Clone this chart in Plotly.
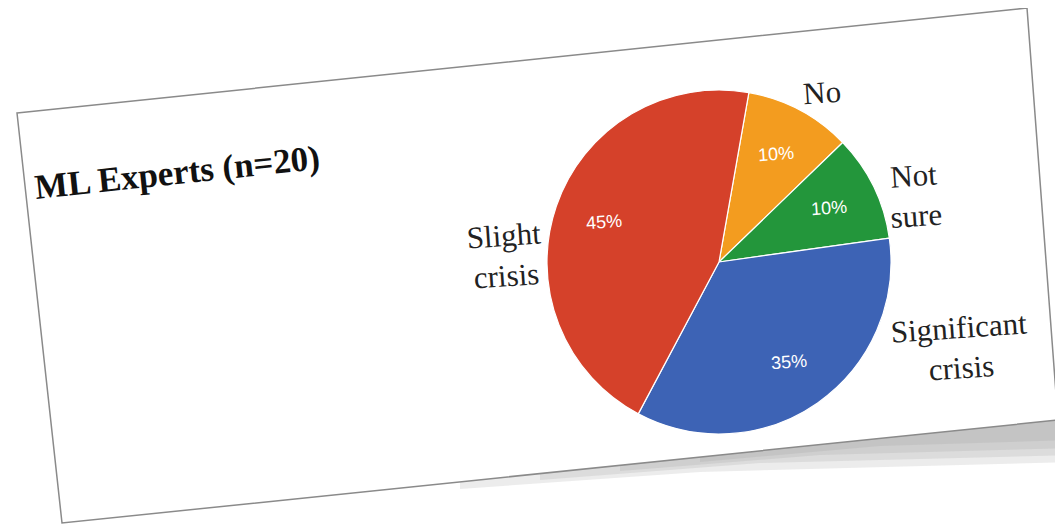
import math
import plotly.graph_objects as go

W, H = 1063, 525
OFF = 8  # page body margin

categories = ["No", "Not sure", "Significant crisis", "Slight crisis"]
shares = [10, 10, 35, 45]
colors = ["#F39C1F", "#23963B", "#3D63B5", "#D5412A"]
title_text = "ML Experts (n=20)"
outside_labels = ["No", "Not<br>sure", "Significant<br>crisis", "Slight<br>crisis"]
start_angle = 10  # degrees clockwise from 12 o'clock

def px(x, y):
    return (x - OFF) / W, 1 - (y - OFF) / H

def path(pts):
    s = ""
    for i, (x, y) in enumerate(pts):
        a, b = px(x, y)
        s += ("M" if i == 0 else "L") + f"{a:.5f},{b:.5f} "
    return s + "Z"

card = [(17, 113), (1027, 8), (1058, 420), (62, 523)]
shadows = [
    [(460, 481), (1075, 417), (1075, 462), (700, 472), (460, 489)],
    [(540, 472), (1075, 417), (1075, 455), (760, 463), (540, 480)],
    [(620, 464), (1075, 417), (1075, 448), (820, 455), (620, 471)],
    [(700, 456), (1075, 417), (1075, 440), (880, 446), (700, 462)],
]

cx, cy, r = 719, 262, 172
x0, y0 = px(cx - r, cy + r)
x1, y1 = px(cx + r, cy - r)
fig = go.Figure(go.Pie(
    labels=categories, values=shares, sort=False, direction="clockwise",
    rotation=start_angle, marker=dict(colors=colors, line=dict(color="white", width=1.2)),
    textinfo="none",
    domain=dict(x=[x0, x1], y=[y0, y1]),
    showlegend=False, hoverinfo="label+percent",
))

for sh in shadows:
    fig.add_shape(type="path", path=path(sh), xref="paper", yref="paper",
                  fillcolor="rgba(150,150,150,0.18)", line=dict(width=0), layer="below")
fig.add_shape(type="path", path=path(card), xref="paper", yref="paper",
              fillcolor="white", line=dict(color="#8a8a8a", width=1.5), layer="below")

# percentage labels placed at 0.71 of the radius, mid-angle of each slice
total = sum(shares)
acc = 0
for v in shares:
    mid = start_angle + 360 * (acc + v / 2) / total
    acc += v
    t = math.radians(mid)
    lx = cx + 0.71 * r * math.sin(t)
    ly = cy - 0.71 * r * math.cos(t)
    a, b = px(lx, ly)
    fig.add_annotation(x=a, y=b, xref="paper", yref="paper", text=f"{round(100 * v / total)}%",
                       showarrow=False, xanchor="center", yanchor="middle", textangle=-4,
                       font=dict(family="Arial, Liberation Sans", size=18, color="white"))

ann_pos = [(822, 92), (915, 195), (960, 347), (505, 256)]
for lab, (x, y) in zip(outside_labels, ann_pos):
    a, b = px(x, y)
    fig.add_annotation(x=a, y=b, xref="paper", yref="paper", text=lab, showarrow=False,
                       xanchor="center", yanchor="middle",
                       align="center", textangle=-4,
                       font=dict(family="Liberation Serif, Times New Roman", size=31, color="#222"))

a, b = px(177, 172)
fig.add_annotation(x=a, y=b, xref="paper", yref="paper", text=f"<b>{title_text}</b>",
                   showarrow=False, textangle=-6, xanchor="center", yanchor="middle",
                   font=dict(family="Liberation Serif, Times New Roman", size=35, color="#111"))

fig.update_layout(width=W, height=H, margin=dict(l=0, r=0, t=0, b=0),
                  paper_bgcolor="white", plot_bgcolor="white")
fig.write_html("out.html")
